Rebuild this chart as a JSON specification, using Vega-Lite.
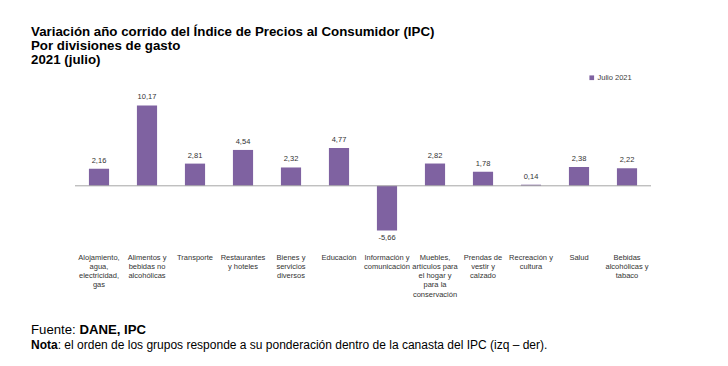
{
  "$schema": "https://vega.github.io/schema/vega-lite/v6.json",
  "width": 576,
  "height": 158,
  "autosize": {"type": "none"},
  "padding": {"left": 75, "top": 91, "right": 77, "bottom": 117},
  "background": "white",
  "config": {
    "view": {"stroke": null},
    "font": "Liberation Sans",
    "locale": {"number": {"decimal": ",", "thousands": ".", "grouping": [3], "currency": ["$", ""], "minus": "-"}}
  },
  "title": {
    "text": ["Variación año corrido del Índice de Precios al Consumidor (IPC)", "Por divisiones de gasto", "2021 (julio)"],
    "anchor": "start",
    "frame": "group",
    "dx": -44,
    "offset": 8,
    "fontSize": 13.3,
    "fontWeight": "bold",
    "font": "Liberation Sans",
    "color": "#000000",
    "lineHeight": 14
  },
  "layer": [
    {
      "data": {
        "values": [
          {"grupo": "Alojamiento,|agua,|electricidad,|gas", "valor": 2.16, "serie": "Julio 2021"},
          {"grupo": "Alimentos y|bebidas no|alcohólicas", "valor": 10.17, "serie": "Julio 2021"},
          {"grupo": "Transporte", "valor": 2.81, "serie": "Julio 2021"},
          {"grupo": "Restaurantes|y hoteles", "valor": 4.54, "serie": "Julio 2021"},
          {"grupo": "Bienes y|servicios|diversos", "valor": 2.32, "serie": "Julio 2021"},
          {"grupo": "Educación", "valor": 4.77, "serie": "Julio 2021"},
          {"grupo": "Información y|comunicación", "valor": -5.66, "serie": "Julio 2021"},
          {"grupo": "Muebles,|artículos para|el hogar y|para la|conservación", "valor": 2.82, "serie": "Julio 2021"},
          {"grupo": "Prendas de|vestir y|calzado", "valor": 1.78, "serie": "Julio 2021"},
          {"grupo": "Recreación y|cultura", "valor": 0.14, "serie": "Julio 2021"},
          {"grupo": "Salud", "valor": 2.38, "serie": "Julio 2021"},
          {"grupo": "Bebidas|alcohólicas y|tabaco", "valor": 2.22, "serie": "Julio 2021"}
        ]
      },
      "encoding": {
        "x": {
          "field": "grupo",
          "type": "nominal",
          "sort": null,
          "scale": {"paddingInner": 0.58, "paddingOuter": 0.29},
          "axis": {
            "title": null,
            "domain": false,
            "ticks": false,
            "labelAngle": 0,
            "labelExpr": "split(datum.label, '|')",
            "labelFontSize": 7.5,
            "labelColor": "#333333",
            "labelLineHeight": 9.3,
            "labelPadding": 4,
            "labelBaseline": "top"
          }
        }
      },
      "layer": [
        {
          "mark": {"type": "bar", "color": "#7F62A1"},
          "encoding": {
            "y": {
              "field": "valor",
              "type": "quantitative",
              "scale": {"domain": [-8, 12], "nice": false},
              "axis": null
            },
            "color": {
              "field": "serie",
              "type": "nominal",
              "scale": {"range": ["#7F62A1"]},
              "legend": {
                "title": null,
                "orient": "none",
                "legendX": 513,
                "legendY": -17,
                "symbolType": "square",
                "symbolSize": 22,
                "labelFontSize": 7.5,
                "labelColor": "#404040",
                "labelOffset": 2
              }
            }
          }
        },
        {
          "transform": [{"filter": "datum.valor >= 0"}],
          "mark": {"type": "text", "baseline": "bottom", "dy": -4, "fontSize": 7.5, "color": "#333333"},
          "encoding": {
            "y": {"field": "valor", "type": "quantitative"},
            "text": {"field": "valor", "type": "quantitative", "format": ".2f"}
          }
        },
        {
          "transform": [{"filter": "datum.valor < 0"}],
          "mark": {"type": "text", "baseline": "top", "dy": 3, "fontSize": 7.5, "color": "#333333"},
          "encoding": {
            "y": {"field": "valor", "type": "quantitative"},
            "text": {"field": "valor", "type": "quantitative", "format": ".2f"}
          }
        }
      ]
    },
    {
      "data": {"values": [{"v": 0}]},
      "mark": {"type": "rule", "color": "#A6A6A6", "strokeWidth": 1},
      "encoding": {
        "x": {"value": 0},
        "x2": {"value": 576},
        "y": {"field": "v", "type": "quantitative"}
      }
    },
    {
      "data": {"values": [{"t": "Fuente: "}]},
      "mark": {"type": "text", "align": "left", "baseline": "middle", "fontSize": 13.2, "color": "#000000"},
      "encoding": {"text": {"field": "t"}, "x": {"value": -44}, "y": {"value": 239}}
    },
    {
      "data": {"values": [{"t": "DANE, IPC"}]},
      "mark": {"type": "text", "align": "left", "baseline": "middle", "fontSize": 13.2, "fontWeight": "bold", "color": "#000000"},
      "encoding": {"text": {"field": "t"}, "x": {"value": 4.4}, "y": {"value": 239}}
    },
    {
      "data": {"values": [{"t": "Nota"}]},
      "mark": {"type": "text", "align": "left", "baseline": "middle", "fontSize": 12, "fontWeight": "bold", "color": "#000000"},
      "encoding": {"text": {"field": "t"}, "x": {"value": -44}, "y": {"value": 254}}
    },
    {
      "data": {"values": [{"t": ": el orden de los grupos responde a su ponderación dentro de la canasta del IPC (izq – der)."}]},
      "mark": {"type": "text", "align": "left", "baseline": "middle", "fontSize": 12, "color": "#000000"},
      "encoding": {"text": {"field": "t"}, "x": {"value": -17.3}, "y": {"value": 254}}
    }
  ]
}
